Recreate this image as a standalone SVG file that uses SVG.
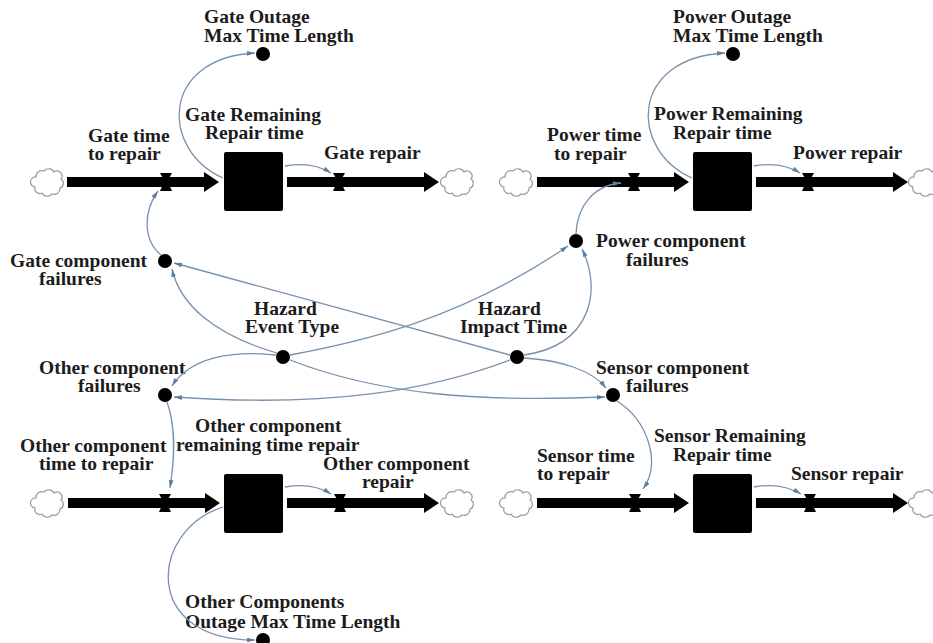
<svg xmlns="http://www.w3.org/2000/svg" xmlns:xlink="http://www.w3.org/1999/xlink" width="933" height="643" viewBox="0 0 933 643">
  <style>
    text { font-family: "Liberation Serif", "Times New Roman", serif; font-weight: bold; font-size: 19.5px; fill: #1c1c1c; }
    .pipe { fill: #000; }
    .stock { fill: #000; }
    .valve { fill: #000; }
    .aux { fill: #000; }
    .cloud { fill: #fff; stroke: #9a9a9a; stroke-width: 1.2; }
    .link { fill: none; stroke: #7892ad; stroke-width: 1.3; marker-end: url(#ah); }
  </style>
  <defs>
    <marker id="ah" viewBox="0 0 10 6" refX="10" refY="3" markerWidth="8" markerHeight="4.8" orient="auto" markerUnits="userSpaceOnUse">
      <path d="M0,0 L10,3 L0,6 z" fill="#5f7f9e"/>
    </marker>
    <path id="cloud" class="cloud" d="M -13 5 A 5 5 0 0 1 -12 -5 A 6 6 0 0 1 -4 -11 A 6 6 0 0 1 6 -10 A 5 5 0 0 1 13 -3 A 5 5 0 0 1 12 6 A 6 6 0 0 1 4 12 A 6 6 0 0 1 -6 11 A 5 5 0 0 1 -13 5 Z"/>
    <!-- horizontal pipe with arrowhead, drawn from x=0 to tip at x=L (L=152) -->
    <path id="pipe" class="pipe" d="M 0 -5 H 137 V -10 L 152 0 L 137 10 V 5 H 0 Z"/>
    <path id="valve" class="valve" d="M -6 -9 H 6 L 1.5 -1 L 6 9 H -6 L -1.5 -1 Z"/>
  </defs>

  <!-- ===== Gate chain ===== -->
  <g id="gate-source"><use xlink:href="#cloud" transform="translate(48,182)"/></g>
  <g id="gate-sink"><use xlink:href="#cloud" transform="translate(458,182)"/></g>
  <g id="gate-time-to-repair">
    <use xlink:href="#pipe" transform="translate(67,182)"/>
    <use xlink:href="#valve" transform="translate(166,182)"/>
    <text x="88" y="142">Gate time</text>
    <text x="88" y="160">to repair</text>
  </g>
  <g id="gate-remaining-repair-time">
    <rect class="stock" x="224" y="152" width="59" height="59" rx="2"/>
    <text x="185" y="121">Gate Remaining</text>
    <text x="205" y="139">Repair time</text>
  </g>
  <g id="gate-repair">
    <use xlink:href="#pipe" transform="translate(287,182)"/>
    <use xlink:href="#valve" transform="translate(339,182)"/>
    <text x="324" y="159">Gate repair</text>
  </g>
  <g id="gate-outage-max">
    <circle class="aux" cx="263" cy="54" r="7"/>
    <text x="204" y="23">Gate Outage</text>
    <text x="204" y="42">Max Time Length</text>
  </g>

  <!-- ===== Power chain ===== -->
  <g id="power-source"><use xlink:href="#cloud" transform="translate(517,182)"/></g>
  <g id="power-sink"><use xlink:href="#cloud" transform="translate(926,182)"/></g>
  <g id="power-time-to-repair">
    <use xlink:href="#pipe" transform="translate(537,182)"/>
    <use xlink:href="#valve" transform="translate(634,182)"/>
    <text x="547" y="141">Power time</text>
    <text x="554" y="160">to repair</text>
  </g>
  <g id="power-remaining-repair-time">
    <rect class="stock" x="693" y="152" width="59" height="59" rx="2"/>
    <text x="654" y="120">Power Remaining</text>
    <text x="673" y="139">Repair time</text>
  </g>
  <g id="power-repair">
    <use xlink:href="#pipe" transform="translate(756,182)"/>
    <use xlink:href="#valve" transform="translate(808,182)"/>
    <text x="793" y="159">Power repair</text>
  </g>
  <g id="power-outage-max">
    <circle class="aux" cx="733" cy="54" r="7"/>
    <text x="673" y="23">Power Outage</text>
    <text x="673" y="42">Max Time Length</text>
  </g>

  <!-- ===== Failure and hazard variables ===== -->
  <g id="gate-component-failures">
    <circle class="aux" cx="165" cy="261" r="7"/>
    <text x="10" y="267">Gate component</text>
    <text x="39" y="285">failures</text>
  </g>
  <g id="power-component-failures">
    <circle class="aux" cx="576" cy="241" r="7"/>
    <text x="596" y="247">Power component</text>
    <text x="626" y="266">failures</text>
  </g>
  <g id="hazard-event-type">
    <circle class="aux" cx="283" cy="357" r="7"/>
    <text x="254" y="315">Hazard</text>
    <text x="245" y="333">Event Type</text>
  </g>
  <g id="hazard-impact-time">
    <circle class="aux" cx="517" cy="357" r="7"/>
    <text x="478" y="315">Hazard</text>
    <text x="460" y="333">Impact Time</text>
  </g>
  <g id="other-component-failures">
    <circle class="aux" cx="165" cy="395" r="7"/>
    <text x="39" y="374">Other component</text>
    <text x="78" y="392">failures</text>
  </g>
  <g id="sensor-component-failures">
    <circle class="aux" cx="613" cy="395" r="7"/>
    <text x="596" y="374">Sensor component</text>
    <text x="626" y="392">failures</text>
  </g>

  <!-- ===== Other component chain ===== -->
  <g id="other-source"><use xlink:href="#cloud" transform="translate(48,503)"/></g>
  <g id="other-sink"><use xlink:href="#cloud" transform="translate(458,503)"/></g>
  <g id="other-time-to-repair">
    <use xlink:href="#pipe" transform="translate(68,503)"/>
    <use xlink:href="#valve" transform="translate(165,503)"/>
    <text x="20" y="452">Other component</text>
    <text x="39" y="470">time to repair</text>
  </g>
  <g id="other-remaining-time-repair">
    <rect class="stock" x="224" y="474" width="59" height="59" rx="2"/>
    <text x="195" y="432">Other component</text>
    <text x="176" y="451">remaining time repair</text>
  </g>
  <g id="other-repair">
    <use xlink:href="#pipe" transform="translate(287,503)"/>
    <use xlink:href="#valve" transform="translate(340,503)"/>
    <text x="323" y="470">Other component</text>
    <text x="362" y="488">repair</text>
  </g>
  <g id="other-outage-max">
    <circle class="aux" cx="263" cy="640" r="7"/>
    <text x="185" y="608">Other Components</text>
    <text x="185" y="628">Outage Max Time Length</text>
  </g>

  <!-- ===== Sensor chain ===== -->
  <g id="sensor-source"><use xlink:href="#cloud" transform="translate(517,503)"/></g>
  <g id="sensor-sink"><use xlink:href="#cloud" transform="translate(926,503)"/></g>
  <g id="sensor-time-to-repair">
    <use xlink:href="#pipe" transform="translate(537,503)"/>
    <use xlink:href="#valve" transform="translate(635,503)"/>
    <text x="537" y="462">Sensor time</text>
    <text x="537" y="480">to repair</text>
  </g>
  <g id="sensor-remaining-repair-time">
    <rect class="stock" x="693" y="474" width="59" height="59" rx="2"/>
    <text x="654" y="442">Sensor Remaining</text>
    <text x="673" y="461">Repair time</text>
  </g>
  <g id="sensor-repair">
    <use xlink:href="#pipe" transform="translate(756,503)"/>
    <use xlink:href="#valve" transform="translate(810,503)"/>
    <text x="791" y="480">Sensor repair</text>
  </g>

  <!-- ===== Information links ===== -->
  <g id="links">
    <!-- stocks to outage limits -->
    <path class="link" d="M 223 178 C 160 150, 160 58, 255 53"/>
    <path class="link" d="M 692 178 C 629 150, 629 58, 725 53"/>
    <path class="link" d="M 223 507 C 150 530, 140 640, 255 640"/>
    <!-- stocks to outflow valves -->
    <path class="link" d="M 285 166 Q 312 161 331 173"/>
    <path class="link" d="M 754 166 Q 781 161 800 173"/>
    <path class="link" d="M 285 487 Q 312 482 331 494"/>
    <path class="link" d="M 754 487 Q 781 482 801 494"/>
    <!-- failures to inflow valves -->
    <path class="link" d="M 161 255 C 143 240, 143 212, 158 191"/>
    <path class="link" d="M 576 234 C 577 205, 595 185, 621 183"/>
    <path class="link" d="M 167 402 C 177 430, 174 462, 170 488"/>
    <path class="link" d="M 617 401 C 647 420, 662 462, 643 489"/>
    <!-- hazard event type -->
    <path class="link" d="M 277 353 C 215 335, 180 305, 172 269"/>
    <path class="link" d="M 290 355 C 360 342, 460 320, 568 246"/>
    <path class="link" d="M 276 355 C 230 350, 190 358, 172 386"/>
    <path class="link" d="M 290 360 C 380 395, 480 402, 605 397"/>
    <!-- hazard impact time -->
    <path class="link" d="M 510 355 L 174 263"/>
    <path class="link" d="M 524 355 C 592 345, 602 290, 582 249"/>
    <path class="link" d="M 510 360 C 430 390, 330 408, 174 397"/>
    <path class="link" d="M 524 358 C 560 360, 592 370, 606 388"/>
  </g>
</svg>
